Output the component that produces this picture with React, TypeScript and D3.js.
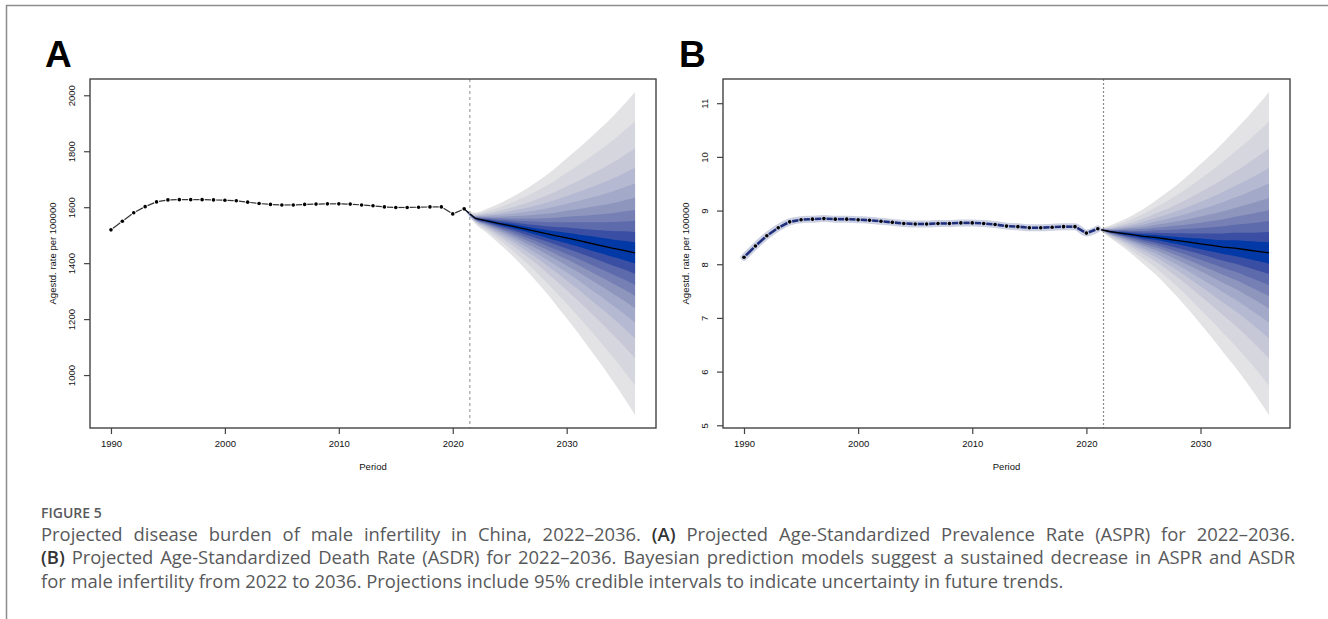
import * as d3 from 'd3';
import { useEffect, useRef } from 'react';

const W = 1328;
const H = 619;

// observed years and age-standardized rates
const obsYears = [
  1990, 1991, 1992, 1993, 1994, 1995, 1996, 1997, 1998, 1999, 2000, 2001, 2002, 2003, 2004, 2005,
  2006, 2007, 2008, 2009, 2010, 2011, 2012, 2013, 2014, 2015, 2016, 2017, 2018, 2019, 2020, 2021,
];
const asprObs = [
  1519, 1550, 1580, 1602, 1619, 1626, 1627, 1627, 1627, 1626, 1625, 1623, 1618, 1613, 1610, 1608,
  1608, 1610, 1611, 1612, 1612, 1611, 1608, 1605, 1601, 1599, 1599, 1600, 1601, 1601, 1576, 1594,
];
const asdrObs = [
  8.13, 8.34, 8.53, 8.68, 8.79, 8.83, 8.84, 8.85, 8.84, 8.84, 8.83, 8.82, 8.8, 8.78, 8.76, 8.75,
  8.75, 8.76, 8.76, 8.77, 8.77, 8.76, 8.74, 8.71, 8.7, 8.68, 8.68, 8.69, 8.7, 8.7, 8.58, 8.66,
];

// projection
const fanYears = [
  2021, 2022, 2023, 2024, 2025, 2026, 2027, 2028, 2029, 2030, 2031, 2032, 2033, 2034, 2035, 2036,
];
const asprMedian = [
  1594, 1560, 1551, 1542, 1534, 1525, 1516, 1507, 1498, 1490, 1481, 1472, 1463, 1454, 1446, 1437,
];
const asdrMedian = [
  8.66, 8.61, 8.58, 8.55, 8.52, 8.5, 8.47, 8.44, 8.41, 8.38, 8.35, 8.32, 8.3, 8.27, 8.24, 8.21,
];
// width of the fan, as share of its width in 2036
const spreadGrowth = [
  0, 0.035, 0.075, 0.12, 0.17, 0.225, 0.285, 0.35, 0.42, 0.495, 0.57, 0.65, 0.73, 0.815, 0.905, 1,
];
// quantile edges, inner -> outer, as share of the outer edge
const bandFractions = [0.066, 0.13, 0.198, 0.266, 0.342, 0.431, 0.528, 0.65, 0.818, 1];
const bandColors = [
  '#0339a6', '#3a4fa3', '#5d6aab', '#7680b4', '#8e96be',
  '#a3a9c8', '#b5b9d1', '#c6c8d8', '#d5d6de', '#e3e3e5',
];
// outer edge distance from the median in 2036 (upper, lower)
const asprOuter = [575, 580];
const asdrOuter = [3.0, 3.02];

const xTicks = [1990, 2000, 2010, 2020, 2030];
const asprTicks = [1000, 1200, 1400, 1600, 1800, 2000];
const asdrTicks = [5, 6, 7, 8, 9, 10, 11];

const captionHead = 'FIGURE 5';
const captionLines = [
  [
    { t: 'Projected disease burden of male infertility in China, 2022–2036. ' },
    { t: '(A)', b: true },
    { t: ' Projected Age-Standardized Prevalence Rate (ASPR) for 2022–2036.' },
  ],
  [
    { t: '(B)', b: true },
    { t: ' Projected Age-Standardized Death Rate (ASDR) for 2022–2036. Bayesian prediction models suggest a sustained decrease in ASPR and ASDR' },
  ],
  [
    { t: 'for male infertility from 2022 to 2036. Projections include 95% credible intervals to indicate uncertainty in future trends.' },
  ],
];

const axisFont = 'Liberation Sans, Arial, sans-serif';

interface PanelDef {
  label: string;
  labelX: number;
  left: number;
  right: number;
  obs: number[];
  median: number[];
  outer: number[];
  ticks: number[];
  glow: boolean;
}

const panels: PanelDef[] = [
  { label: 'A', labelX: 45, left: 90, right: 656, obs: asprObs, median: asprMedian, outer: asprOuter, ticks: asprTicks, glow: false },
  { label: 'B', labelX: 679, left: 723, right: 1290, obs: asdrObs, median: asdrMedian, outer: asdrOuter, ticks: asdrTicks, glow: true },
];

const App = () => {
  const ref = useRef<SVGSVGElement | null>(null);

  useEffect(() => {
    if (!ref.current) return;
    const svg = d3.select(ref.current);
    svg.selectAll('*').remove();

    const top = 79;
    const bottom = 428;

    // frame of the figure
    svg.append('line').attr('x1', 6).attr('x2', W).attr('y1', 5.5).attr('y2', 5.5)
      .attr('stroke', '#8c8c8c').attr('stroke-width', 1.5);
    svg.append('line').attr('x1', 6.5).attr('x2', 6.5).attr('y1', 5).attr('y2', H)
      .attr('stroke', '#8c8c8c').attr('stroke-width', 1.5);

    panels.forEach((p) => {
      const g = svg.append('g');

      // R style 4% extension of the ranges
      const allYears = [obsYears[0], fanYears[fanYears.length - 1]];
      const xPad = (allYears[1] - allYears[0]) * 0.04;
      const x = d3.scaleLinear().domain([allYears[0] - xPad, allYears[1] + xPad]).range([p.left, p.right]);

      const last = p.median.length - 1;
      const yMax = p.median[last] + p.outer[0];
      const yMin = p.median[last] - p.outer[1];
      const yPad = (yMax - yMin) * 0.04;
      const y = d3.scaleLinear().domain([yMin - yPad, yMax + yPad]).range([bottom, top]);

      // fan, outer bands first
      for (let k = bandFractions.length - 1; k >= 0; k--) {
        const area = d3
          .area<number>()
          .x((_, i) => x(fanYears[i]))
          .y0((m, i) => y(m - p.outer[1] * spreadGrowth[i] * bandFractions[k]))
          .y1((m, i) => y(m + p.outer[0] * spreadGrowth[i] * bandFractions[k]))
          .curve(d3.curveMonotoneX);
        g.append('path').attr('d', area(p.median)).attr('fill', bandColors[k]);
      }

      g.append('path')
        .attr('d', d3.line<number>().x((_, i) => x(fanYears[i])).y((m) => y(m))(p.median))
        .attr('fill', 'none')
        .attr('stroke', '#000')
        .attr('stroke-width', 1.3);

      // observed series
      if (p.glow) {
        g.append('path')
          .attr('d', d3.line<number>().x((_, i) => x(obsYears[i])).y((v) => y(v)).curve(d3.curveMonotoneX)(p.obs))
          .attr('fill', 'none')
          .attr('stroke', '#cdd1e4')
          .attr('stroke-width', 7)
          .attr('stroke-linejoin', 'round')
          .attr('stroke-linecap', 'round');
      }
      const gap = 2.6;
      p.obs.forEach((v, i) => {
        if (i === 0) return;
        const x0 = x(obsYears[i - 1]);
        const y0 = y(p.obs[i - 1]);
        const x1 = x(obsYears[i]);
        const y1 = y(v);
        const len = Math.hypot(x1 - x0, y1 - y0);
        const ux = (x1 - x0) / len;
        const uy = (y1 - y0) / len;
        g.append('line')
          .attr('x1', x0 + ux * gap).attr('y1', y0 + uy * gap)
          .attr('x2', x1 - ux * gap).attr('y2', y1 - uy * gap)
          .attr('stroke', p.glow ? '#1f2e7a' : '#333')
          .attr('stroke-width', p.glow ? 2.6 : 1.2);
      });
      g.selectAll('circle.pt')
        .data(p.obs)
        .join('circle')
        .attr('class', 'pt')
        .attr('cx', (_, i) => x(obsYears[i]))
        .attr('cy', (v) => y(v))
        .attr('r', 1.8)
        .attr('fill', '#000');

      // forecast start
      g.append('line')
        .attr('x1', x(2021.5)).attr('x2', x(2021.5))
        .attr('y1', top).attr('y2', bottom)
        .attr('stroke', p.glow ? '#8a8a8a' : '#a0a0a0')
        .attr('stroke-width', 1.2)
        .attr('stroke-dasharray', p.glow ? '2,2' : '3,3');

      // box
      g.append('rect')
        .attr('x', p.left).attr('y', top)
        .attr('width', p.right - p.left).attr('height', bottom - top)
        .attr('fill', 'none').attr('stroke', '#444').attr('stroke-width', 1.4);

      const xAxis = g.append('g')
        .attr('transform', `translate(0,${bottom})`)
        .call(d3.axisBottom(x).tickValues(xTicks).tickSize(6).tickPadding(6).tickFormat(d3.format('d')));
      xAxis.select('.domain').remove();
      xAxis.selectAll('line').attr('stroke', '#444').attr('stroke-width', 1.2);
      xAxis.selectAll('text').attr('font-family', axisFont).attr('font-size', 9.5).attr('fill', '#111');

      const yAxis = g.append('g')
        .attr('transform', `translate(${p.left},0)`)
        .call(d3.axisLeft(y).tickValues(p.ticks).tickSize(6).tickFormat(d3.format('d')));
      yAxis.select('.domain').remove();
      yAxis.selectAll('line').attr('stroke', '#444').attr('stroke-width', 1.2);
      yAxis.selectAll('text')
        .attr('x', null)
        .attr('dy', '0.35em')
        .attr('text-anchor', 'middle')
        .attr('transform', 'translate(-18,0) rotate(-90)')
        .attr('font-family', axisFont)
        .attr('font-size', 9.5)
        .attr('fill', '#111');

      g.append('text')
        .attr('transform', `translate(${p.left - 37},${(top + bottom) / 2}) rotate(-90)`)
        .attr('dy', '0.35em')
        .attr('text-anchor', 'middle')
        .attr('font-family', axisFont)
        .attr('font-size', 9.5)
        .attr('fill', '#111')
        .text('Agestd. rate per 100000');

      g.append('text')
        .attr('x', (p.left + p.right) / 2)
        .attr('y', 469.5)
        .attr('text-anchor', 'middle')
        .attr('font-family', axisFont)
        .attr('font-size', 9.5)
        .attr('fill', '#111')
        .text('Period');

      g.append('text')
        .attr('x', p.labelX)
        .attr('y', 67)
        .attr('font-family', axisFont)
        .attr('font-weight', 700)
        .attr('font-size', 37)
        .attr('fill', '#000')
        .text(p.label);
    });

    // caption
    const capFont = 'Open Sans, sans-serif';
    const capLeft = 41;
    const capRight = 1295;
    svg.append('text')
      .attr('x', capLeft).attr('y', 518)
      .attr('font-family', capFont).attr('font-weight', 600).attr('font-size', 14)
      .attr('fill', '#58595b')
      .text(captionHead);

    const lineNodes = captionLines.map((parts, li) => {
      const t = svg.append('text')
        .attr('x', capLeft)
        .attr('y', 540.5 + li * 23.5)
        .attr('font-family', capFont)
        .attr('font-size', 16)
        .attr('fill', '#58595b')
        .style('white-space', 'pre');
      parts.forEach((part: { t: string; b?: boolean }) => {
        const s = t.append('tspan').text(part.t);
        if (part.b) s.attr('font-weight', 600).attr('fill', '#333');
      });
      return t;
    });

    // fit font to the last (unjustified) line, then justify the others
    const lastNode = lineNodes[2].node() as SVGTextElement;
    const natural = lastNode.getComputedTextLength();
    const fs = 16 * (1023 / natural);
    lineNodes.forEach((t) => t.attr('font-size', fs));
    [0, 1].forEach((li) => {
      const node = lineNodes[li].node() as SVGTextElement;
      const w = node.getComputedTextLength();
      const spaces = captionLines[li].map((p) => p.t).join('').split(' ').length - 1;
      lineNodes[li].attr('word-spacing', (capRight - capLeft - w) / spaces);
    });
  }, []);

  return (
    <svg
      ref={ref}
      width={W}
      height={H}
      style={{ position: 'absolute', left: 0, top: 0, background: '#fff' }}
    />
  );
};

export default App;
